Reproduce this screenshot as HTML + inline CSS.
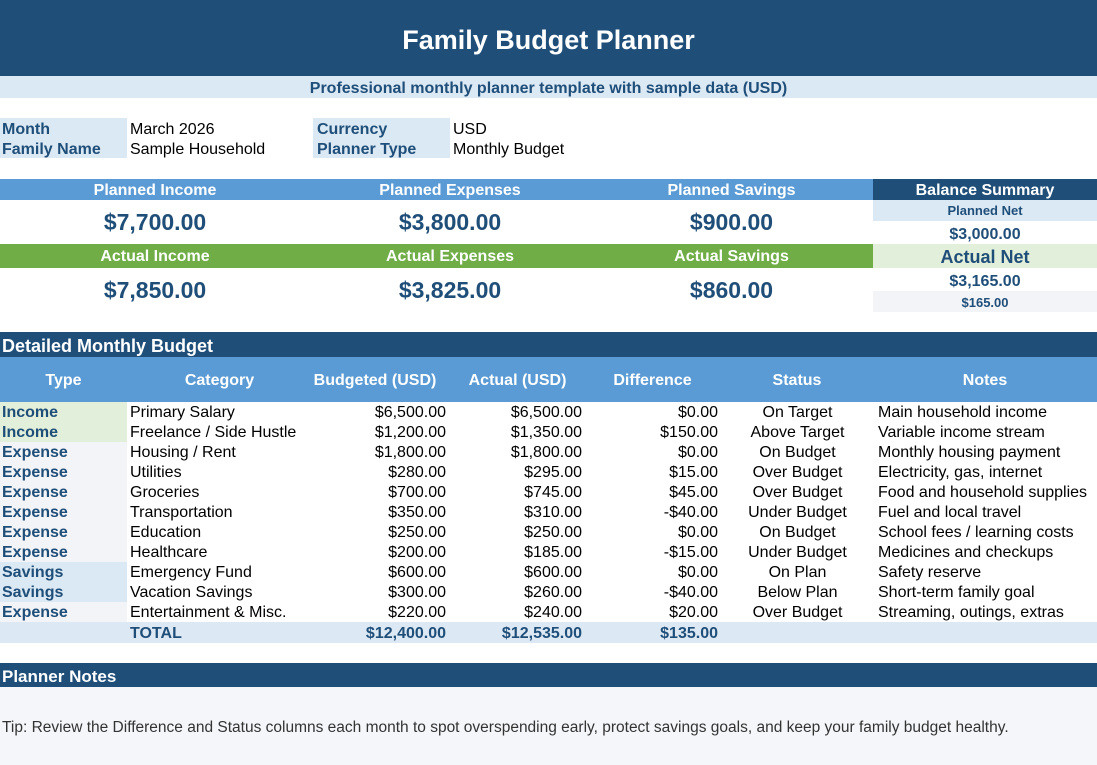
<!DOCTYPE html><html><head><meta charset="utf-8"><style>
body{margin:0;width:1097px;height:765px;position:relative;background:#fff;font-family:"Liberation Sans",Arial,sans-serif;overflow:hidden}
div{position:absolute;box-sizing:border-box;white-space:nowrap}
.c{text-align:center}.r{text-align:right}
.dk{background:#1f4e79;color:#fff}
.t{font-size:16px;line-height:22px;color:#000}
.b{font-weight:bold;color:#1f4e79}
</style></head><body>
<div class="dk c" style="left:0;top:0;width:1097px;height:76px;font-size:27px;font-weight:bold;line-height:80px">Family Budget Planner</div>
<div class="c" style="left:0;top:76px;width:1097px;height:22px;background:#dbe9f5;color:#1f4e79;font-weight:bold;font-size:16px;line-height:25px">Professional monthly planner template with sample data (USD)</div>
<div class="t b" style="left:0;top:118px;width:127px;height:40px;background:#dbe9f5;padding-left:2px;line-height:20px;padding-top:2px">Month<br>Family Name</div>
<div class="t" style="left:130px;top:120px;line-height:20px">March 2026<br>Sample Household</div>
<div class="t b" style="left:313px;top:118px;width:137px;height:40px;background:#dbe9f5;padding-left:4px;line-height:20px;padding-top:2px">Currency<br>Planner Type</div>
<div class="t" style="left:453px;top:120px;line-height:20px">USD<br>Monthly Budget</div>
<div style="left:0;top:179px;width:873px;height:21px;background:#5b9bd5"></div>
<div style="left:0;top:244px;width:873px;height:24px;background:#70ad47"></div>
<div class="c" style="left:0;top:179px;width:310px;color:#fff;font-weight:bold;font-size:16px;line-height:23px">Planned Income</div>
<div class="c" style="left:310px;top:179px;width:280px;color:#fff;font-weight:bold;font-size:16px;line-height:23px">Planned Expenses</div>
<div class="c" style="left:590px;top:179px;width:283px;color:#fff;font-weight:bold;font-size:16px;line-height:23px">Planned Savings</div>
<div class="c" style="left:0;top:244px;width:310px;color:#fff;font-weight:bold;font-size:16px;line-height:26px">Actual Income</div>
<div class="c" style="left:310px;top:244px;width:280px;color:#fff;font-weight:bold;font-size:16px;line-height:26px">Actual Expenses</div>
<div class="c" style="left:590px;top:244px;width:283px;color:#fff;font-weight:bold;font-size:16px;line-height:26px">Actual Savings</div>
<div class="c b" style="left:0;top:200px;width:310px;font-size:23px;line-height:44px">$7,700.00</div>
<div class="c b" style="left:310px;top:200px;width:280px;font-size:23px;line-height:44px">$3,800.00</div>
<div class="c b" style="left:590px;top:200px;width:283px;font-size:23px;line-height:44px">$900.00</div>
<div class="c b" style="left:0;top:268px;width:310px;font-size:23px;line-height:44px">$7,850.00</div>
<div class="c b" style="left:310px;top:268px;width:280px;font-size:23px;line-height:44px">$3,825.00</div>
<div class="c b" style="left:590px;top:268px;width:283px;font-size:23px;line-height:44px">$860.00</div>
<div class="dk c" style="left:873px;top:179px;width:224px;height:21px;font-weight:bold;font-size:16px;line-height:23px">Balance Summary</div>
<div class="c b" style="left:873px;top:200px;width:224px;height:21px;background:#dbe9f5;font-size:13px;line-height:22px">Planned Net</div>
<div class="c b" style="left:873px;top:221px;width:224px;height:23px;font-size:16px;line-height:27px">$3,000.00</div>
<div class="c b" style="left:873px;top:244px;width:224px;height:24px;background:#e2efda;font-size:18px;line-height:27px">Actual Net</div>
<div class="c b" style="left:873px;top:268px;width:224px;height:23px;font-size:16px;line-height:27px">$3,165.00</div>
<div class="c b" style="left:873px;top:291px;width:224px;height:21px;background:#f2f4f8;font-size:13px;line-height:23px">$165.00</div>
<div class="dk" style="left:0;top:332px;width:1097px;height:25px;font-weight:bold;font-size:18px;line-height:29px;padding-left:2px">Detailed Monthly Budget</div>
<div style="left:0;top:357px;width:1097px;height:45px;background:#5b9bd5"></div>
<div id="tb"></div>
<div style="left:0;top:622px;width:1097px;height:21px;background:#dce9f5"></div>
<div class="dk" style="left:0;top:663px;width:1097px;height:24px;font-weight:bold;font-size:17px;line-height:28px;padding-left:2px">Planner Notes</div>
<div style="left:0;top:687px;width:1097px;height:78px;background:#f4f6f9"></div>
<div style="left:2px;top:718px;font-size:15.5px;line-height:20px;color:#333">Tip: Review the Difference and Status columns each month to spot overspending early, protect savings goals, and keep your family budget healthy.</div>
<script>
var h=["Type","Category","Budgeted (USD)","Actual (USD)","Difference","Status","Notes"];
var hx=[[0,127],[127,185],[300,150],[450,135],[585,135],[722,150],[873,224]];
var s="";
h.forEach(function(t,i){s+='<div class="c" style="left:'+hx[i][0]+'px;top:357px;width:'+hx[i][1]+'px;color:#fff;font-weight:bold;font-size:16px;line-height:48px">'+t+'</div>';});
var d=[["Income","Primary Salary","$6,500.00","$6,500.00","$0.00","On Target","Main household income"],
["Income","Freelance / Side Hustle","$1,200.00","$1,350.00","$150.00","Above Target","Variable income stream"],
["Expense","Housing / Rent","$1,800.00","$1,800.00","$0.00","On Budget","Monthly housing payment"],
["Expense","Utilities","$280.00","$295.00","$15.00","Over Budget","Electricity, gas, internet"],
["Expense","Groceries","$700.00","$745.00","$45.00","Over Budget","Food and household supplies"],
["Expense","Transportation","$350.00","$310.00","-$40.00","Under Budget","Fuel and local travel"],
["Expense","Education","$250.00","$250.00","$0.00","On Budget","School fees / learning costs"],
["Expense","Healthcare","$200.00","$185.00","-$15.00","Under Budget","Medicines and checkups"],
["Savings","Emergency Fund","$600.00","$600.00","$0.00","On Plan","Safety reserve"],
["Savings","Vacation Savings","$300.00","$260.00","-$40.00","Below Plan","Short-term family goal"],
["Expense","Entertainment & Misc.","$220.00","$240.00","$20.00","Over Budget","Streaming, outings, extras"]];
var bg={Income:"#e2efda",Expense:"#f2f4f8",Savings:"#dbe9f5"};
d.forEach(function(r,i){var y=402+i*20;
s+='<div class="t b" style="left:0;top:'+y+'px;width:127px;height:20px;background:'+bg[r[0]]+';padding-left:2px">'+r[0]+'</div>';
s+='<div class="t" style="left:130px;top:'+y+'px">'+r[1].replace("&","&amp;")+'</div>';
s+='<div class="t r" style="left:300px;top:'+y+'px;width:146px">'+r[2]+'</div>';
s+='<div class="t r" style="left:450px;top:'+y+'px;width:132px">'+r[3]+'</div>';
s+='<div class="t r" style="left:585px;top:'+y+'px;width:133px">'+r[4]+'</div>';
s+='<div class="t c" style="left:722px;top:'+y+'px;width:151px">'+r[5]+'</div>';
s+='<div class="t" style="left:878px;top:'+y+'px">'+r[6]+'</div>';});
s+='<div class="t b" style="left:130px;top:623px;z-index:2">TOTAL</div>';
s+='<div class="t b r" style="left:300px;top:623px;width:146px;z-index:2">$12,400.00</div>';
s+='<div class="t b r" style="left:450px;top:623px;width:132px;z-index:2">$12,535.00</div>';
s+='<div class="t b r" style="left:585px;top:623px;width:133px;z-index:2">$135.00</div>';
document.getElementById("tb").outerHTML=s;
</script>
</body></html>
